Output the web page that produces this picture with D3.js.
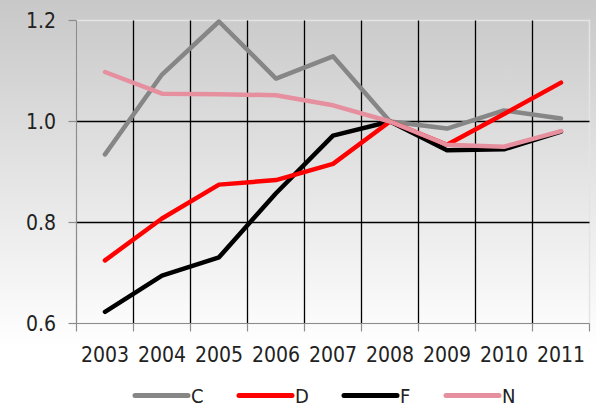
<!DOCTYPE html>
<html><head><meta charset="utf-8">
<script src="https://cdn.jsdelivr.net/npm/d3@7"></script>
<style>html,body{margin:0;padding:0;background:#fff;}svg{display:block;}</style>
</head><body>
<svg id="chart" width="596" height="408"></svg>
<script>
const years = ["2003","2004","2005","2006","2007","2008","2009","2010","2011"];
const seriesNames = ["C","D","F","N"];
const seriesColors = ["#868686","#ff0000","#000000","#e6909f"];
const valuesC = [0.935,1.093,1.198,1.085,1.129,1.000,0.986,1.022,1.006];
const valuesD = [0.725,0.808,0.875,0.884,0.916,1.000,0.954,1.015,1.077];
const valuesF = [0.623,0.695,0.731,0.858,0.972,1.000,0.943,0.945,0.980];
const valuesN = [1.098,1.055,1.054,1.052,1.032,1.000,0.954,0.950,0.981];
const yTicks = [0.6,0.8,1.0,1.2];
const yTickLabels = ["0.6","0.8","1.0","1.2"];

const allSeries = [
  {name:seriesNames[0], color:seriesColors[0], values:valuesC},
  {name:seriesNames[1], color:seriesColors[1], values:valuesD},
  {name:seriesNames[2], color:seriesColors[2], values:valuesF},
  {name:seriesNames[3], color:seriesColors[3], values:valuesN}
];
const drawOrder = [0,2,1,3];

const svg = d3.select("#chart");
const W = 596, H = 408;
const font = "Tahoma, 'DejaVu Sans Condensed', 'Liberation Sans', sans-serif";
const fs = 21;

const defs = svg.append("defs");
const g1 = defs.append("linearGradient").attr("id","bg").attr("x1",0).attr("y1",0).attr("x2",0).attr("y2",1);
g1.append("stop").attr("offset","0%").attr("stop-color","#c8c8c8");
g1.append("stop").attr("offset","85%").attr("stop-color","#ffffff");
g1.append("stop").attr("offset","100%").attr("stop-color","#ffffff");
svg.append("rect").attr("width",W).attr("height",H).attr("fill","url(#bg)");

const x = d3.scaleBand().domain(years).range([76.5,589.5]).paddingInner(0).paddingOuter(0);
const y = d3.scaleLinear().domain([0.6,1.2]).range([323.5,20.5]);

// plot border (light)
svg.append("rect").attr("x",x.range()[0]).attr("y",y(1.2)).attr("width",x.range()[1]-x.range()[0])
  .attr("height",y(0.6)-y(1.2)).attr("fill","none").attr("stroke","#e4e4e4").attr("stroke-width",1.5);

// horizontal gridlines
svg.append("g").selectAll("line").data(yTicks.filter(t=>t>0.6 && t<1.2)).join("line")
  .attr("x1",x.range()[0]).attr("x2",x.range()[1]).attr("y1",d=>y(d)).attr("y2",d=>y(d))
  .attr("stroke","#000").attr("stroke-width",1.3);

// vertical gridlines at band boundaries
const bounds = years.slice(1).map(yr=>x(yr));
svg.append("g").selectAll("line").data(bounds).join("line")
  .attr("x1",d=>d).attr("x2",d=>d).attr("y1",y(1.2)).attr("y2",y(0.6))
  .attr("stroke","#000").attr("stroke-width",1.3);

// axes
svg.append("line").attr("x1",x.range()[0]).attr("x2",x.range()[0]).attr("y1",y(1.2)).attr("y2",y(0.6))
  .attr("stroke","#8c8c8c").attr("stroke-width",1.2);
svg.append("line").attr("x1",x.range()[0]).attr("x2",x.range()[1]).attr("y1",y(0.6)).attr("y2",y(0.6))
  .attr("stroke","#8c8c8c").attr("stroke-width",1.2);
svg.append("g").selectAll("line").data(yTicks).join("line")
  .attr("x1",x.range()[0]-8).attr("x2",x.range()[0]).attr("y1",d=>y(d)).attr("y2",d=>y(d))
  .attr("stroke","#8c8c8c").attr("stroke-width",1.2);
const xTickPos = years.map(yr=>x(yr)).concat([x.range()[1]]);
svg.append("g").selectAll("line").data(xTickPos).join("line")
  .attr("x1",d=>d).attr("x2",d=>d).attr("y1",y(0.6)).attr("y2",y(0.6)+8)
  .attr("stroke","#8c8c8c").attr("stroke-width",1.2);

// y labels
svg.append("g").selectAll("text").data(yTicks).join("text")
  .attr("x",56).attr("y",d=>y(d)).attr("dy","0.35em").attr("text-anchor","end")
  .attr("font-family",font).attr("font-size",fs).attr("fill","#222")
  .text((d,i)=>yTickLabels[i]);

// x labels
svg.append("g").selectAll("text").data(years).join("text")
  .attr("x",d=>x(d)+x.bandwidth()/2).attr("y",361.5).attr("text-anchor","middle")
  .attr("font-family",font).attr("font-size",fs).attr("fill","#222")
  .text(d=>d);

// lines
const line = d3.line().x((d,i)=>x(years[i])+x.bandwidth()/2).y(d=>y(d));
svg.append("g").selectAll("path").data(drawOrder.map(i=>allSeries[i])).join("path")
  .attr("d",d=>line(d.values)).attr("fill","none").attr("stroke",d=>d.color)
  .attr("stroke-width",4.5).attr("stroke-linejoin","round").attr("stroke-linecap","round");

// legend
const legendX = [135,239,344,446];
const lg = svg.append("g").selectAll("g").data(allSeries).join("g")
  .attr("transform",(d,i)=>`translate(${legendX[i]},395.5)`);
lg.append("line").attr("x1",0).attr("x2",53).attr("y1",0).attr("y2",0)
  .attr("stroke",d=>d.color).attr("stroke-width",5).attr("stroke-linecap","round");
lg.append("text").attr("x",56).attr("y",0).attr("dy","0.35em")
  .attr("font-family",font).attr("font-size",20).attr("fill","#222").text(d=>d.name);
</script>
</body></html>
